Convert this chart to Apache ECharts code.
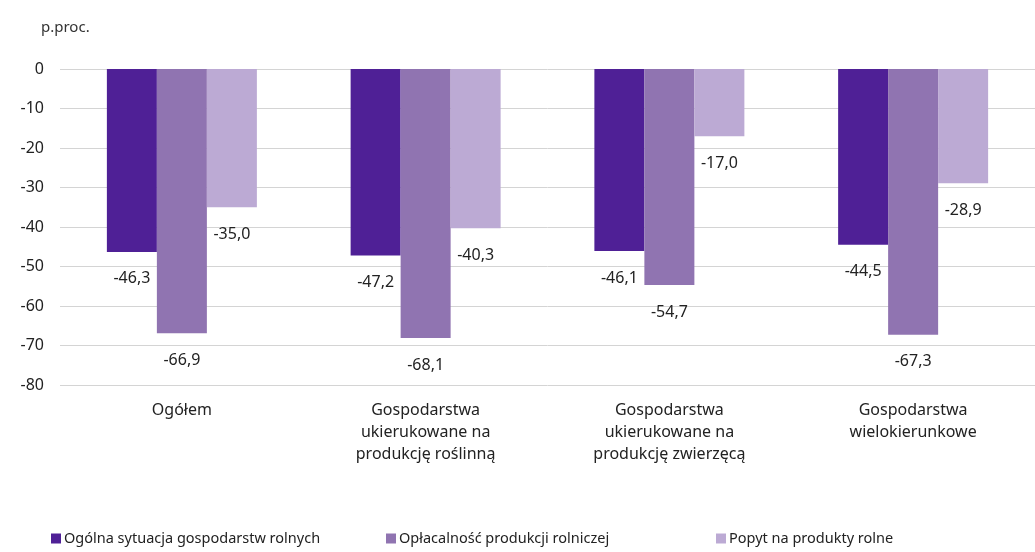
<!DOCTYPE html>
<html>
<head>
<meta charset="utf-8">
<script src="https://cdn.jsdelivr.net/npm/echarts@6/dist/echarts.min.js"></script>
<style>
  html, body { margin: 0; padding: 0; background: #fff; }
  #chart { width: 1035px; height: 552px; }
</style>
</head>
<body>
<div id="chart"></div>
<script>
const categories = [
  'Ogółem',
  'Gospodarstwa\nukierukowane na\nprodukcję roślinną',
  'Gospodarstwa\nukierukowane na\nprodukcję zwierzęcą',
  'Gospodarstwa\nwielokierunkowe'
]
const seriesNames = [
  'Ogólna sytuacja gospodarstw rolnych',
  'Opłacalność produkcji rolniczej',
  'Popyt na produkty rolne'
]
const sytuacja = [-46.3, -47.2, -46.1, -44.5]
const oplacalnosc = [-66.9, -68.1, -54.7, -67.3]
const popyt = [-35.0, -40.3, -17.0, -28.9]
const colors = ['#4f2096', '#9074b1', '#bcaad4']

const font = 'Noto Sans'
const chart = echarts.init(document.getElementById('chart'))

function makeSeries(name, data, color) {
  return {
    name: name,
    type: 'bar',
    data: data,
    barWidth: 50,
    barGap: 0,
    itemStyle: { color: color },
    label: {
      show: true,
      position: 'bottom',
      distance: 19,
      color: '#222',
      fontFamily: font,
      fontSize: 16,
      formatter: p => p.value.toFixed(1).replace('.', ',')
    }
  }
}

const legendLefts = [46, 381, 711]

chart.setOption({
  textStyle: { fontFamily: font },
  color: colors,
  title: {
    text: 'p.proc.',
    left: 36,
    top: 15,
    textStyle: { fontFamily: font, fontSize: 15, fontWeight: 'normal', color: '#333' }
  },
  legend: seriesNames.map((n, i) => ({
    data: [n],
    left: legendLefts[i],
    bottom: 1,
    icon: 'rect',
    itemWidth: 10,
    itemHeight: 10,
    itemGap: 4,
    textStyle: { fontFamily: font, fontSize: 14.5, color: '#222', padding: [0, 0, 0, -2] }
  })),
  grid: {
    left: 60,
    right: 0,
    top: 69,
    bottom: 167
  },
  xAxis: {
    type: 'category',
    data: categories,
    position: 'bottom',
    axisLine: { show: false },
    axisTick: { show: false },
    axisLabel: {
      color: '#222',
      fontFamily: font,
      fontSize: 16,
      lineHeight: 22,
      margin: 14,
      interval: 0
    }
  },
  yAxis: {
    type: 'value',
    min: -80,
    max: 0,
    interval: 10,
    axisLine: { show: false },
    axisTick: { show: false },
    splitLine: { lineStyle: { color: '#d4d4d4' } },
    axisLabel: { color: '#222', fontFamily: font, fontSize: 16, margin: 16 }
  },
  series: [
    makeSeries(seriesNames[0], sytuacja, colors[0]),
    makeSeries(seriesNames[1], oplacalnosc, colors[1]),
    makeSeries(seriesNames[2], popyt, colors[2])
  ]
})
</script>
</body>
</html>
